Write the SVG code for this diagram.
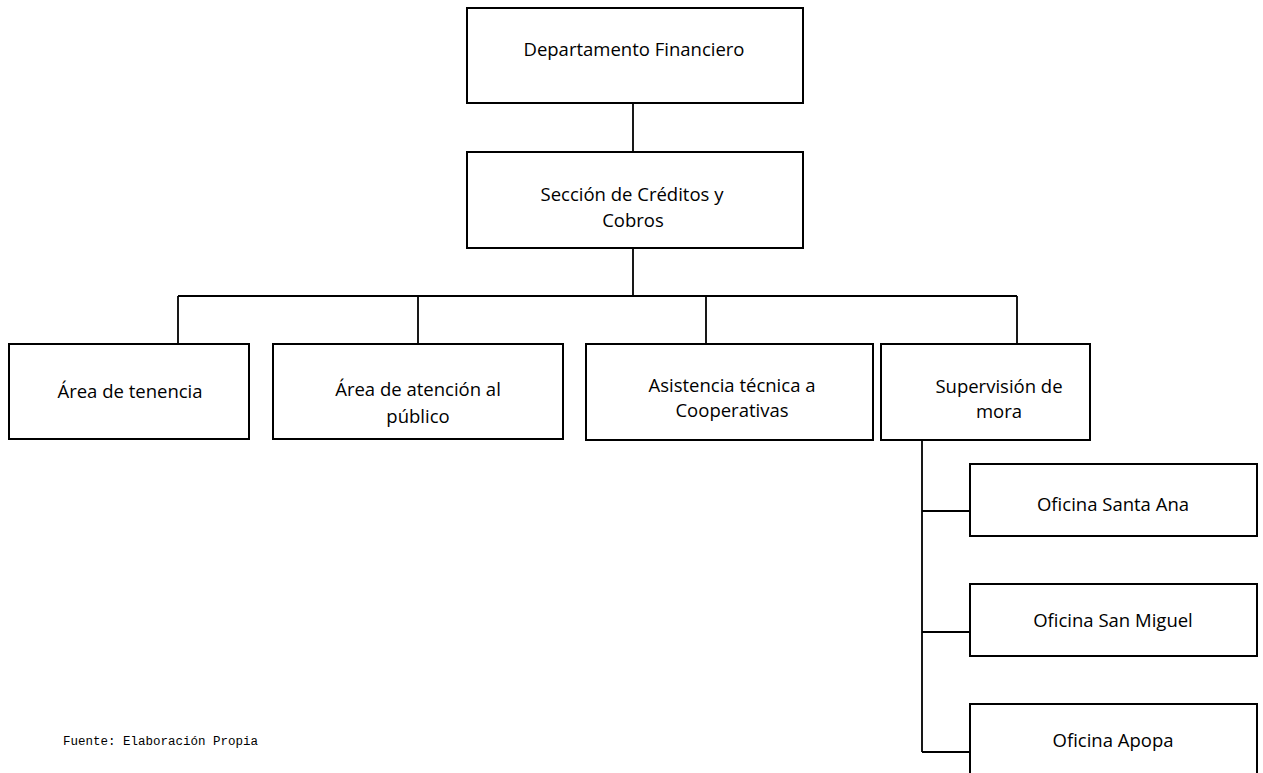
<svg xmlns="http://www.w3.org/2000/svg" width="1263" height="773" viewBox="0 0 1263 773">
<style>
.box{fill:#fff;stroke:#000;stroke-width:2}
.con{fill:none;stroke:#000;stroke-width:1.8}
.t{font-family:"Open Sans","Noto Sans","Liberation Sans",sans-serif;font-size:18.5px;fill:#000;text-anchor:middle}
.src{font-family:"Liberation Mono","Courier New",monospace;font-size:12.5px;fill:#000}
</style>
<rect width="1263" height="773" fill="#fff"/>
<g id="connectors">
<path class="con" d="M633 103V152M633 248V296M178 296H1017M178 296V344M418 296V344M706 296V344M1017 296V344M922 440V752M922 511H970M922 632H970M922 752H970"/>
</g>
<g id="n1"><rect class="box" x="467" y="8" width="336" height="95"/><text class="t" x="634" y="56">Departamento Financiero</text></g>
<g id="n2"><rect class="box" x="467" y="152" width="336" height="96"/><text class="t" x="632" y="201">Sección de Créditos y</text><text class="t" x="633" y="227">Cobros</text></g>
<g id="n3"><rect class="box" x="9" y="344" width="240" height="95"/><text class="t" x="130" y="398">Área de tenencia</text></g>
<g id="n4"><rect class="box" x="273" y="344" width="290" height="95"/><text class="t" x="418" y="396">Área de atención al</text><text class="t" x="418" y="423">público</text></g>
<g id="n5"><rect class="box" x="586" y="344" width="287" height="96"/><text class="t" x="732" y="392">Asistencia técnica a</text><text class="t" x="732" y="417">Cooperativas</text></g>
<g id="n6"><rect class="box" x="881" y="344" width="209" height="96"/><text class="t" x="999" y="393">Supervisión de</text><text class="t" x="999" y="418">mora</text></g>
<g id="n7"><rect class="box" x="970" y="464" width="287" height="72"/><text class="t" x="1113" y="511">Oficina Santa Ana</text></g>
<g id="n8"><rect class="box" x="970" y="584" width="287" height="72"/><text class="t" x="1113" y="627">Oficina San Miguel</text></g>
<g id="n9"><rect class="box" x="970" y="704" width="287" height="80"/><text class="t" x="1113" y="747">Oficina Apopa</text></g>
<text class="src" x="63" y="745">Fuente: Elaboración Propia</text>
</svg>
